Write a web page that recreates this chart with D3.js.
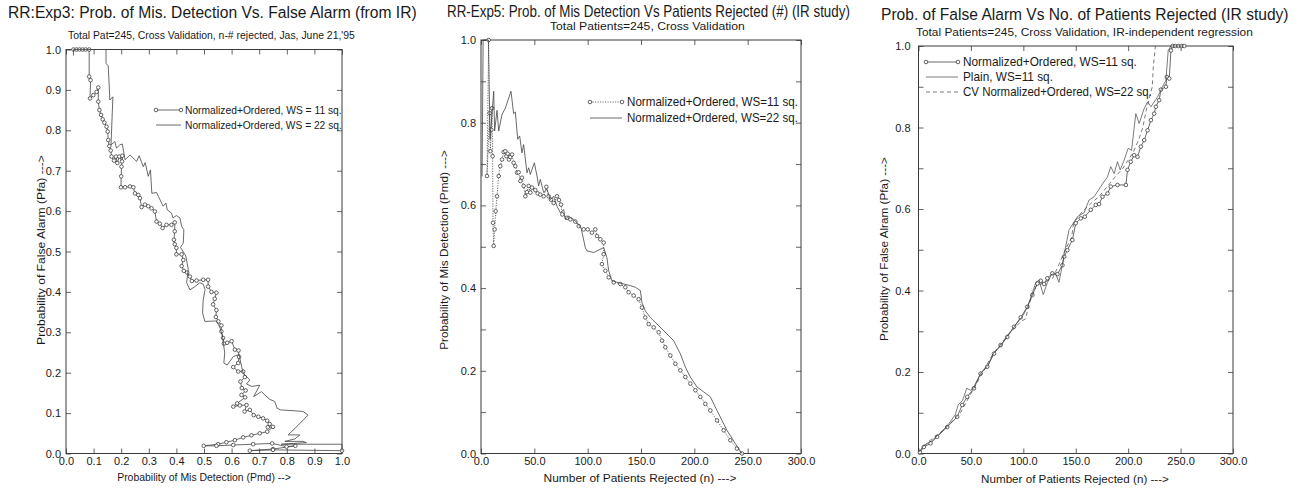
<!DOCTYPE html>
<html><head><meta charset="utf-8">
<script src="https://cdn.jsdelivr.net/npm/d3@7"></script>
<style>
body{margin:0;background:#fff}
svg{display:block}
text{font-family:"Liberation Sans",Arial,Helvetica,sans-serif;fill:#1a1a1a}
</style>
</head><body>
<svg id="c" width="1306" height="490"></svg>
<script>
// ---------------- DATA ----------------
// Panel 1: Pfa vs Pmd  [Pmd, Pfa]
const p1_ws11 = [[0.027,1.0],[0.038,1.0],[0.049,1.0],[0.06,1.0],[0.071,1.0],[0.084,1.0],[0.084,0.933],[0.089,0.924],[0.087,0.879],[0.099,0.887],[0.111,0.895],[0.117,0.906],[0.117,0.871],[0.121,0.850],[0.127,0.838],[0.133,0.827],[0.139,0.819],[0.147,0.809],[0.151,0.797],[0.153,0.776],[0.157,0.761],[0.162,0.750],[0.165,0.735],[0.174,0.725],[0.181,0.735],[0.186,0.719],[0.193,0.735],[0.203,0.723],[0.204,0.737],[0.201,0.710],[0.200,0.686],[0.199,0.659],[0.214,0.659],[0.232,0.661],[0.244,0.659],[0.250,0.644],[0.262,0.640],[0.268,0.632],[0.274,0.610],[0.286,0.616],[0.298,0.612],[0.310,0.607],[0.322,0.599],[0.328,0.574],[0.340,0.569],[0.350,0.558],[0.364,0.566],[0.382,0.566],[0.394,0.572],[0.394,0.550],[0.391,0.529],[0.394,0.518],[0.400,0.509],[0.400,0.493],[0.419,0.493],[0.425,0.479],[0.419,0.464],[0.427,0.452],[0.439,0.448],[0.449,0.438],[0.456,0.427],[0.473,0.428],[0.497,0.430],[0.515,0.430],[0.515,0.413],[0.527,0.400],[0.545,0.398],[0.539,0.383],[0.533,0.369],[0.545,0.355],[0.543,0.338],[0.552,0.327],[0.563,0.317],[0.563,0.302],[0.569,0.286],[0.572,0.272],[0.584,0.274],[0.600,0.278],[0.612,0.257],[0.625,0.255],[0.627,0.239],[0.624,0.224],[0.606,0.214],[0.624,0.203],[0.642,0.203],[0.648,0.189],[0.632,0.178],[0.637,0.162],[0.651,0.156],[0.636,0.145],[0.649,0.139],[0.620,0.124],[0.606,0.116],[0.630,0.119],[0.654,0.120],[0.647,0.104],[0.666,0.108],[0.680,0.095],[0.697,0.091],[0.714,0.087],[0.729,0.081],[0.738,0.073],[0.731,0.065],[0.750,0.066],[0.729,0.054],[0.702,0.050],[0.672,0.045],[0.642,0.040],[0.612,0.033],[0.581,0.028],[0.551,0.023],[0.499,0.019],[0.545,0.019],[0.606,0.021],[0.678,0.023],[0.747,0.025],[0.799,0.017],[0.831,0.019],[0.750,0.011],[0.666,0.007],[0.750,0.009],[1.0,0.007]];
const p1_ws22 = [[0.027,0.985],[0.027,1.0],[0.145,1.0],[0.145,0.965],[0.153,0.960],[0.159,0.875],[0.170,0.883],[0.163,0.764],[0.177,0.772],[0.183,0.756],[0.195,0.764],[0.204,0.766],[0.214,0.727],[0.232,0.739],[0.256,0.723],[0.265,0.737],[0.280,0.710],[0.287,0.720],[0.298,0.686],[0.306,0.702],[0.311,0.644],[0.328,0.646],[0.335,0.636],[0.352,0.612],[0.362,0.620],[0.367,0.603],[0.382,0.595],[0.388,0.583],[0.400,0.589],[0.413,0.583],[0.419,0.562],[0.427,0.554],[0.425,0.521],[0.422,0.518],[0.415,0.510],[0.434,0.489],[0.443,0.456],[0.437,0.423],[0.449,0.405],[0.467,0.413],[0.485,0.423],[0.497,0.419],[0.504,0.406],[0.497,0.380],[0.495,0.348],[0.503,0.327],[0.545,0.328],[0.557,0.313],[0.567,0.290],[0.575,0.249],[0.572,0.224],[0.584,0.219],[0.606,0.240],[0.627,0.245],[0.636,0.216],[0.642,0.199],[0.666,0.182],[0.654,0.172],[0.673,0.166],[0.702,0.169],[0.680,0.141],[0.708,0.153],[0.738,0.134],[0.756,0.129],[0.765,0.112],[0.777,0.108],[0.823,0.106],[0.859,0.104],[0.877,0.095],[0.841,0.070],[0.805,0.046],[0.847,0.046],[0.829,0.036],[0.793,0.030],[0.859,0.030],[0.871,0.027],[0.780,0.023],[1.0,0.023],[1.0,0.007]];

// Panel 2: Pmd vs patients rejected  [n, Pmd]
const p2_ws11 = [[7.2,1.0],[5.6,0.671],[8.1,0.823],[8.75,0.731],[9.7,0.783],[10.3,0.835],[10.9,0.719],[11.25,0.558],[11.9,0.502],[12.8,0.542],[13.75,0.586],[15.0,0.622],[16.6,0.671],[18.1,0.695],[19.7,0.711],[21.25,0.729],[22.8,0.731],[23.75,0.719],[25,0.725],[26.25,0.711],[27.5,0.717],[29.1,0.723],[30.6,0.703],[32.2,0.695],[33.75,0.679],[35.3,0.680],[36.9,0.659],[38.4,0.667],[40,0.647],[41.6,0.622],[43.1,0.632],[44.7,0.647],[46.25,0.631],[47.8,0.643],[50.9,0.637],[53.1,0.629],[55.6,0.626],[58.75,0.622],[61.25,0.645],[63.4,0.622],[65.6,0.614],[68.1,0.606],[71.25,0.622],[73.1,0.613],[75,0.602],[76.25,0.578],[80.6,0.570],[83.75,0.566],[88.4,0.561],[91.6,0.550],[96.25,0.542],[100,0.542],[104,0.534],[107.2,0.542],[108.75,0.526],[111.9,0.518],[115,0.510],[115,0.482],[113.4,0.458],[116.6,0.442],[119.7,0.426],[124.4,0.414],[130.6,0.410],[135.3,0.402],[138.4,0.390],[143.1,0.382],[147.8,0.373],[150.9,0.353],[154,0.329],[157.2,0.313],[161.9,0.305],[166.6,0.293],[169.7,0.273],[172.8,0.257],[177.5,0.237],[182.2,0.217],[186.9,0.201],[191.6,0.185],[196.25,0.169],[201,0.153],[205.6,0.137],[210.3,0.120],[215,0.104],[221.25,0.080],[227.5,0.056],[233.75,0.032],[240,0.012],[244.7,0.0]];
const p2_ws22 = [[1,0.67],[2,1.0],[7,1.0],[8.5,0.76],[11.9,0.876],[12.8,0.78],[15,0.83],[16.6,0.78],[19.7,0.82],[22.8,0.835],[28.1,0.876],[30.6,0.822],[32.2,0.826],[34.4,0.76],[36.25,0.768],[38.4,0.727],[40,0.747],[43.1,0.679],[44.7,0.691],[46.25,0.675],[50,0.703],[52.5,0.671],[54,0.647],[55.6,0.663],[58.75,0.631],[61.9,0.639],[65,0.614],[68.1,0.622],[71.25,0.598],[74.4,0.582],[77.5,0.590],[79,0.566],[82.2,0.574],[86.9,0.566],[90,0.558],[93.75,0.546],[97.8,0.498],[99.4,0.49],[105.6,0.486],[115,0.498],[118,0.474],[119.7,0.442],[122.8,0.418],[127.5,0.414],[133.75,0.41],[140,0.406],[144.7,0.402],[149.4,0.394],[150.9,0.365],[154,0.345],[158.75,0.329],[165,0.313],[171.25,0.297],[180.6,0.273],[186.9,0.241],[191.6,0.209],[196.25,0.185],[202.5,0.161],[208.75,0.149],[215,0.137],[221.25,0.104],[230.6,0.056],[238.4,0.024],[244.7,0.0]];

// Panel 3: Pfa vs patients rejected  [n, Pfa]
const p3_ws11 = [[1.3,0.003],[5.1,0.016],[11.5,0.025],[17.8,0.041],[27.4,0.065],[36.9,0.090],[41.7,0.119],[46.5,0.139],[52.9,0.160],[59.2,0.196],[65.6,0.213],[72,0.245],[78.3,0.266],[84.7,0.286],[91.1,0.311],[97.5,0.334],[103.8,0.360],[108.6,0.389],[113.4,0.417],[116.6,0.424],[119.7,0.416],[122.9,0.430],[127.7,0.442],[132.5,0.440],[137.3,0.462],[138.9,0.483],[142,0.499],[146.8,0.524],[150,0.565],[154.8,0.577],[158.6,0.581],[164.3,0.598],[169.1,0.610],[172.3,0.612],[175.5,0.630],[180.3,0.638],[183.4,0.655],[189.8,0.659],[197.8,0.659],[199.4,0.696],[202.5,0.716],[205.7,0.732],[208.9,0.728],[212.1,0.753],[215.3,0.769],[218.5,0.793],[221.7,0.818],[224.8,0.834],[226.4,0.851],[229.6,0.867],[231.2,0.893],[236,0.900],[236.9,0.924],[239.2,0.920],[240.8,0.989],[242.4,1.0],[245,1.0],[248,1.0],[251,1.0],[253.5,1.0]];
const p3_plain = [[1,0.005],[5,0.02],[12,0.03],[20,0.048],[28,0.07],[35,0.095],[38,0.12],[42,0.13],[46,0.16],[50,0.155],[53,0.165],[60,0.2],[66,0.215],[72,0.248],[79,0.265],[85,0.29],[91,0.31],[97,0.33],[100,0.34],[104,0.36],[108,0.39],[112,0.42],[115,0.425],[119,0.39],[123,0.42],[127,0.44],[131,0.44],[134,0.42],[137,0.46],[139,0.49],[143.6,0.549],[151.6,0.581],[158,0.591],[162.7,0.622],[167.5,0.630],[173.9,0.655],[180.3,0.679],[183.4,0.704],[186.6,0.687],[189.8,0.716],[192.4,0.696],[196.2,0.720],[200,0.749],[203.2,0.744],[207.3,0.834],[210.5,0.810],[215,0.845],[218.5,0.863],[221.7,0.851],[228,0.875],[232.8,0.900],[236,0.916],[238.2,0.989],[240.8,1.0],[253,1.0]];
const p3_cv = [[1,0.005],[10,0.03],[25,0.06],[40,0.1],[55,0.17],[70,0.24],[85,0.29],[98,0.325],[102,0.33],[106,0.37],[112,0.41],[120,0.42],[128,0.43],[135,0.47],[140,0.5],[146,0.53],[148,0.565],[155,0.59],[165,0.615],[172,0.63],[180,0.655],[188,0.68],[195,0.70],[200,0.72],[205,0.74],[210,0.77],[214,0.80],[217,0.84],[220,0.87],[223,0.90],[224,0.95],[226,1.0]];

// tick values
const p1_xTicks = [0,0.1,0.2,0.3,0.4,0.5,0.6,0.7,0.8,0.9,1.0];
const p1_yTicks = [0,0.1,0.2,0.3,0.4,0.5,0.6,0.7,0.8,0.9,1.0];
const p1_yLabels = [0,0.1,0.2,0.3,0.4,0.5,0.6,0.7,0.8,0.9,1.0];
const n_xTicks = [0,50,100,150,200,250,300];
const p_yTicks = [0,0.1,0.2,0.3,0.4,0.5,0.6,0.7,0.8,0.9,1.0];
const p_yLabels = [0,0.2,0.4,0.6,0.8,1.0];

// texts
const titles = ["RR:Exp3: Prob. of Mis. Detection  Vs. False Alarm (from IR)",
                "RR-Exp5: Prob. of Mis Detection Vs Patients Rejected (#) (IR study)",
                "Prob. of False Alarm Vs No. of Patients Rejected (IR study)"];
const subtitles = ["Total Pat=245, Cross Validation, n-# rejected, Jas, June 21,'95",
                   "Total Patients=245, Cross Validation",
                   "Total Patients=245, Cross Validation, IR-independent regression"];
const xLabels = ["Probability of Mis Detection  (Pmd) -->",
                 "Number of Patients Rejected (n) --->",
                 "Number of Patients Rejected (n) --->"];
const yLabels = ["Probability of False Alarm (Pfa)  --->",
                 "Probability of Mis Detection (Pmd) --->",
                 "Probability of False Alram (Pfa)  --->"];
const p1_legend = ["Normalized+Ordered, WS = 11 sq.","Normalized+Ordered, WS = 22 sq."];
const p2_legend = ["Normalized+Ordered, WS=11 sq.","Normalized+Ordered, WS=22 sq."];
const p3_legend = ["Normalized+Ordered, WS=11 sq.","Plain, WS=11 sq.","CV Normalized+Ordered, WS=22 sq."];

// ---------------- DRAW ----------------
const svg = d3.select("#c");
const INK = "#3a3a3a";
const fmt = d3.format(".1f");

// text drawn at the origin, then narrowed horizontally to the target width
function txt(g, s, o){
  const t = g.append("text").text(s)
    .attr("font-size", o.size)
    .attr("text-anchor", o.anchor || "start")
    .attr("x", 0).attr("y", 0);
  const w = t.node().getComputedTextLength();
  const sx = o.len ? o.len / w : 1;
  t.attr("transform", `translate(${o.x},${o.y})${o.rotate ? " rotate(-90)" : ""} scale(${sx},1)`);
  return t;
}

function panel(cfg){
  const g = svg.append("g");
  const x = d3.scaleLinear().domain(cfg.xDomain).range([cfg.left, cfg.right]);
  const y = d3.scaleLinear().domain([0,1]).range([cfg.bottom, cfg.top]);
  const lblSet = new Set(cfg.yLabels.map(v=>v.toFixed(1)));
  const style = sel => { sel.select(".domain").remove();
    sel.selectAll(".tick line").attr("stroke", INK).attr("stroke-width", 0.8);
    sel.selectAll(".tick text").attr("font-size", 11).attr("fill","#1a1a1a")
       .attr("font-family","'Liberation Sans',Arial,sans-serif"); };

  g.append("g").attr("transform",`translate(0,${cfg.bottom})`)
    .call(d3.axisBottom(x).tickValues(cfg.xTicks).tickFormat(fmt).tickSizeInner(-5).tickSizeOuter(0).tickPadding(4)).call(style);
  g.append("g").attr("transform",`translate(0,${cfg.top})`)
    .call(d3.axisTop(x).tickValues(cfg.xTicks).tickFormat("").tickSizeInner(-5).tickSizeOuter(0)).call(style);
  g.append("g").attr("transform",`translate(${cfg.left},0)`)
    .call(d3.axisLeft(y).tickValues(cfg.yTicks).tickFormat(d=>lblSet.has(d.toFixed(1))?fmt(d):"").tickSizeInner(-5).tickSizeOuter(0).tickPadding(cfg.yPad)).call(style);
  g.append("g").attr("transform",`translate(${cfg.right},0)`)
    .call(d3.axisRight(y).tickValues(cfg.yTicks).tickFormat("").tickSizeInner(-5).tickSizeOuter(0)).call(style);

  g.append("rect").attr("x",cfg.left).attr("y",cfg.top)
    .attr("width",cfg.right-cfg.left).attr("height",cfg.bottom-cfg.top)
    .attr("fill","none").attr("stroke",INK).attr("stroke-width",1);

  const line = d3.line().x(d=>x(d[0])).y(d=>y(d[1]));
  cfg.series.forEach(s=>{
    g.append("path").datum(s.data).attr("d", line)
      .attr("fill","none").attr("stroke", s.color || "#444")
      .attr("stroke-width", s.width || 0.8)
      .attr("stroke-dasharray", s.dash || null)
      .attr("stroke-linejoin","miter");
    if (s.markers){
      g.append("g").selectAll("circle").data(s.data).join("circle")
        .attr("cx", d=>x(d[0])).attr("cy", d=>y(d[1])).attr("r", 1.8)
        .attr("fill","#fff").attr("stroke","#333").attr("stroke-width",0.75);
    }
  });

  // legend
  cfg.legend.forEach((L,i)=>{
    const s = cfg.series[i];
    const ly = L.y;
    g.append("line").attr("x1",L.x1).attr("x2",L.x2).attr("y1",ly).attr("y2",ly)
      .attr("stroke", s.color || "#444").attr("stroke-width", s.width || 0.8)
      .attr("stroke-dasharray", s.dash || null);
    if (s.markers){
      [L.x1, L.x2].forEach(cx=> g.append("circle").attr("cx",cx).attr("cy",ly).attr("r",1.8)
        .attr("fill","#fff").attr("stroke","#333").attr("stroke-width",0.75));
    }
    txt(g, L.text, {x:L.tx, y:ly+4, size:L.size, len:L.len});
  });

  // titles & labels
  txt(g, cfg.title, cfg.titleO);
  txt(g, cfg.subtitle, cfg.subO);
  txt(g, cfg.xLabel, cfg.xLabO);
  txt(g, cfg.yLabel, cfg.yLabO);
}

panel({
  left:66, right:342, top:49.5, bottom:453.5, xDomain:[0,1],
  xTicks:p1_xTicks, yTicks:p1_yTicks, yLabels:p1_yLabels, yPad:5,
  series:[{data:p1_ws11, markers:true, width:0.8},{data:p1_ws22, width:0.8}],
  legend:[
    {x1:156,x2:181,y:110,tx:185,text:p1_legend[0],size:11,len:157},
    {x1:156,x2:181,y:125,tx:185,text:p1_legend[1],size:11,len:157}],
  title:titles[0], titleO:{x:8,y:18,size:17,len:409},
  subtitle:subtitles[0], subO:{x:68,y:39,size:11.5,len:287},
  xLabel:xLabels[0], xLabO:{x:204,y:481,size:11.5,anchor:"middle",len:174},
  yLabel:yLabels[0], yLabO:{x:45,y:250,size:11.5,anchor:"middle",len:190,rotate:true}
});

panel({
  left:481, right:801, top:40, bottom:453.5, xDomain:[0,300],
  xTicks:n_xTicks, yTicks:p_yTicks, yLabels:p_yLabels, yPad:5,
  series:[{data:p2_ws11, markers:true, dash:"1.2,1.3", width:0.8},{data:p2_ws22, width:0.8}],
  legend:[
    {x1:590,x2:622,y:102,tx:627,text:p2_legend[0],size:12.5,len:171},
    {x1:590,x2:622,y:118,tx:627,text:p2_legend[1],size:12.5,len:171}],
  title:titles[1], titleO:{x:447,y:17,size:16.5,len:403},
  subtitle:subtitles[1], subO:{x:550,y:30,size:11.5,len:195},
  xLabel:xLabels[1], xLabO:{x:640,y:482,size:11.5,anchor:"middle",len:193},
  yLabel:yLabels[1], yLabO:{x:448,y:250,size:11.5,anchor:"middle",len:200,rotate:true}
});

panel({
  left:918.5, right:1233, top:46, bottom:453.5, xDomain:[0,300],
  xTicks:n_xTicks, yTicks:p_yTicks, yLabels:p_yLabels, yPad:8,
  series:[{data:p3_ws11, markers:true, width:0.8},{data:p3_plain, width:0.7},{data:p3_cv, dash:"4,3", width:0.7}],
  legend:[
    {x1:926,x2:958,y:62,tx:963,text:p3_legend[0],size:12,len:174},
    {x1:926,x2:958,y:77,tx:963,text:p3_legend[1],size:12,len:90},
    {x1:926,x2:958,y:92,tx:963,text:p3_legend[2],size:12,len:189}],
  title:titles[2], titleO:{x:881,y:20,size:16.5,len:408},
  subtitle:subtitles[2], subO:{x:916,y:36,size:11.5,len:337},
  xLabel:xLabels[2], xLabO:{x:1075,y:483,size:11.5,anchor:"middle",len:188},
  yLabel:yLabels[2], yLabO:{x:888,y:249,size:11.5,anchor:"middle",len:184,rotate:true}
});
</script>
</body></html>
